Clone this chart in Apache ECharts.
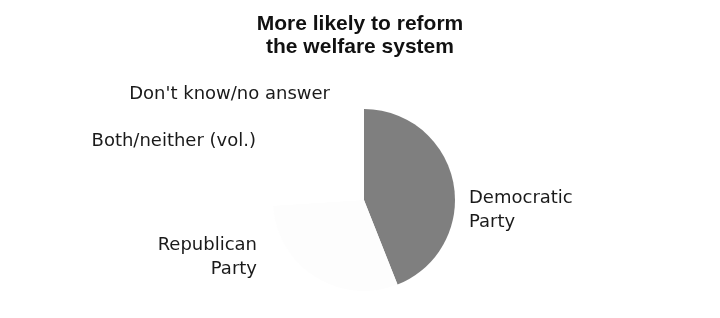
<!DOCTYPE html>
<html>
<head>
<meta charset="utf-8">
<script src="https://cdn.jsdelivr.net/npm/echarts@6/dist/echarts.min.js"></script>
<style>
html,body{margin:0;padding:0;background:#fff;}
#c{width:720px;height:318px;}
</style>
</head>
<body>
<div id="c"></div>
<script>
// Data
var categories = ['Democratic Party', 'Republican Party', 'Both/neither (vol.)', "Don't know/no answer"];
var values = [44, 30, 14, 12];
var labelTexts = ['Democratic\nParty', 'Republican\nParty', 'Both/neither (vol.)', "Don't know/no answer"];
var titleText = 'More likely to reform\nthe welfare system';

// Styles (kept separate from data)
var sliceColors = ['#7f7f7f', '#fdfdfd', '#ffffff', '#ffffff'];
var labelPos = [
  {x: 469, y: 210, align: 'left'},
  {x: 257, y: 257, align: 'right'},
  {x: 256, y: 141, align: 'right'},
  {x: 330, y: 94, align: 'right'}
];

var chart = echarts.init(document.getElementById('c'), null, {renderer: 'canvas'});
chart.setOption({
  animation: false,
  backgroundColor: '#ffffff',
  title: {
    text: titleText,
    left: 'center',
    top: 8,
    textStyle: {
      fontFamily: 'Liberation Sans, Arial, sans-serif',
      fontWeight: 'bold',
      fontSize: 21,
      lineHeight: 23,
      color: '#111'
    }
  },
  series: [{
    type: 'pie',
    center: [364, 200],
    radius: [0, 91],
    startAngle: 90,
    clockwise: true,
    silent: true,
    itemStyle: {borderWidth: 0},
    labelLine: {show: false},
    label: {
      show: true,
      position: 'outside',
      fontFamily: 'DejaVu Sans, sans-serif',
      fontSize: 18,
      lineHeight: 24,
      color: '#1a1a1a',
      formatter: function (p) { return labelTexts[p.dataIndex]; }
    },
    labelLayout: function (p) {
      var lp = labelPos[p.dataIndex];
      return {x: lp.x, y: lp.y, align: lp.align, verticalAlign: 'middle', hideOverlap: false, moveOverlap: null};
    },
    data: categories.map(function (c, i) {
      return {name: c, value: values[i], itemStyle: {color: sliceColors[i]}};
    })
  }]
});
</script>
</body>
</html>
